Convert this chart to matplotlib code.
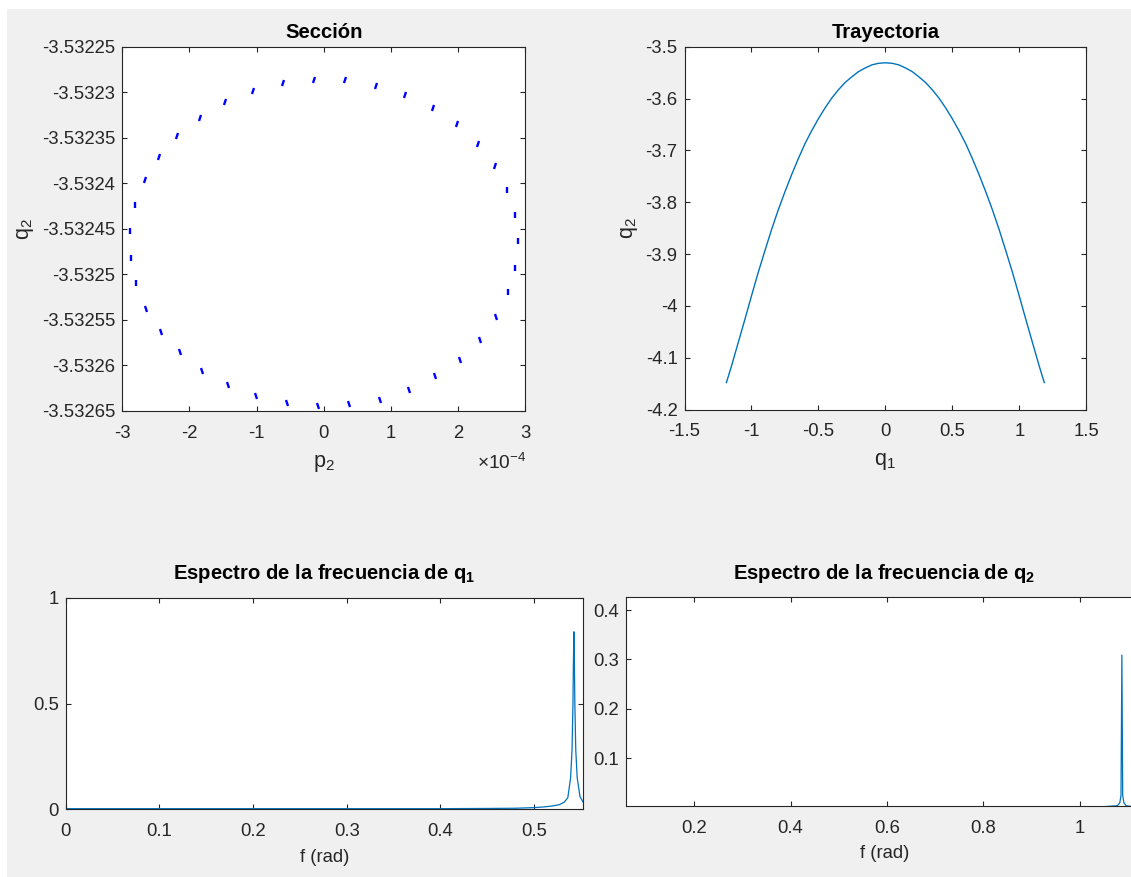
import numpy as np
import matplotlib
matplotlib.use('Agg')
import matplotlib.pyplot as plt
from matplotlib.markers import MarkerStyle
from matplotlib.transforms import Affine2D
from matplotlib.patches import Rectangle
from matplotlib.ticker import FuncFormatter

# Sección (Poincaré): p2 in units of 1e-4, q2 absolute
p2_sec = [-0.141, 0.321, 0.773, 1.214, 1.623, 1.985, 2.293, 2.543, 2.729, 2.840,
          2.888, 2.846, 2.745, 2.564, 2.325, 2.022, 1.661, 1.262, 0.832, 0.380,
          -0.088, -0.550, -1.002, -1.427, -1.804, -2.139, -2.421, -2.649, -2.798, -2.872,
          -2.878, -2.809, -2.665, -2.453, -2.182, -1.847, -1.475, -1.050, -0.603]
q2_sec = [-3.532287, -3.532287, -3.532293, -3.532303, -3.532317, -3.532335, -3.532357, -3.532381, -3.532408, -3.532435,
          -3.532463, -3.532493, -3.532520, -3.532547, -3.532572, -3.532594, -3.532612, -3.532627, -3.532638, -3.532643,
          -3.532645, -3.532641, -3.532634, -3.532622, -3.532606, -3.532586, -3.532563, -3.532538, -3.532510, -3.532482,
          -3.532453, -3.532424, -3.532397, -3.532371, -3.532348, -3.532328, -3.532311, -3.532299, -3.532290]

# Trayectoria
q1_tr = [-1.187, -1.15, -1.1, -1.05, -1.0, -0.95, -0.9, -0.85, -0.8, -0.75, -0.7, -0.65, -0.6,
         -0.55, -0.5, -0.45, -0.4, -0.35, -0.3, -0.25, -0.2, -0.15, -0.1, -0.05, 0.0,
         0.05, 0.1, 0.15, 0.2, 0.25, 0.3, 0.35, 0.4, 0.45, 0.5, 0.55, 0.6,
         0.65, 0.7, 0.75, 0.8, 0.85, 0.9, 0.95, 1.0, 1.05, 1.1, 1.15, 1.187]
q2_tr = [-4.148, -4.117, -4.072, -4.027, -3.981, -3.936, -3.894, -3.853, -3.815, -3.780, -3.747, -3.716, -3.687,
         -3.662, -3.639, -3.618, -3.599, -3.583, -3.569, -3.558, -3.548, -3.541, -3.535, -3.532, -3.531,
         -3.532, -3.535, -3.541, -3.548, -3.558, -3.569, -3.583, -3.599, -3.618, -3.639, -3.662, -3.687,
         -3.716, -3.747, -3.780, -3.815, -3.853, -3.894, -3.936, -3.981, -4.027, -4.072, -4.117, -4.148]

# Espectro q1
f1 = [0.0, 0.1, 0.2, 0.3, 0.4, 0.45, 0.48, 0.50, 0.51, 0.52, 0.527, 0.532, 0.536, 0.539,
      0.5405, 0.5415, 0.542, 0.5425, 0.543, 0.5435, 0.5445, 0.546, 0.549, 0.552]
a1 = [0.003, 0.003, 0.003, 0.003, 0.003, 0.004, 0.005, 0.008, 0.011, 0.016, 0.022, 0.033, 0.055, 0.15,
      0.28, 0.5, 0.7, 0.839, 0.7, 0.5, 0.28, 0.15, 0.06, 0.036]

# Espectro q2
f2 = [0.058, 0.3, 0.6, 0.9, 1.05, 1.078, 1.083, 1.0855, 1.0873, 1.089, 1.0915, 1.096, 1.11, 1.13]
a2 = [0.002, 0.002, 0.002, 0.002, 0.002, 0.004, 0.010, 0.025, 0.309, 0.025, 0.010, 0.004, 0.002, 0.002]

W, H = 1131, 877
plt.rcParams['font.family'] = ['Liberation Sans', 'DejaVu Sans']
plt.rcParams['mathtext.fontset'] = 'custom'
plt.rcParams['mathtext.rm'] = 'Liberation Sans'
plt.rcParams['mathtext.it'] = 'Liberation Sans'
plt.rcParams['mathtext.bf'] = 'Liberation Sans:bold'
plt.rcParams['axes.unicode_minus'] = False

fig = plt.figure(figsize=(W / 100, H / 100), dpi=100, facecolor='white')
fig.patches.append(Rectangle((7 / W, 0), 1, 1 - 9 / H, transform=fig.transFigure,
                             facecolor='#f0f0f0', edgecolor='none', zorder=-10))

tick_fs = 13.3
lab_fs = 14.6
gray = '#262626'
line_c = '#0072bd'
fmt = FuncFormatter(lambda v, pos: f'{v:g}')


def px_axes(l, t, r, b):
    return fig.add_axes([l / W, 1 - b / H, (r - l) / W, (b - t) / H])


def style(ax):
    ax.tick_params(direction='in', top=True, right=True, length=3.5, width=0.8,
                   labelsize=tick_fs, colors=gray, pad=5)
    ax.tick_params(axis='x', pad=10)
    for s in ax.spines.values():
        s.set_color(gray)
        s.set_linewidth(0.8)
    ax.xaxis.set_major_formatter(fmt)
    ax.yaxis.set_major_formatter(fmt)


# Sección
ax1 = px_axes(122.1, 46.7, 525.4, 410.7)
qc = (max(q2_sec) + min(q2_sec)) / 2
qr = (max(q2_sec) - min(q2_sec)) / 2
for p, q in zip(p2_sec, q2_sec):
    ang = -25 * (q - qc) / qr
    m = MarkerStyle('|', transform=Affine2D().rotate_deg(ang))
    ax1.plot(p, q, linestyle='none', marker=m, markersize=5, markeredgewidth=1.7, color='#0000ff')
ax1.set_xlim(-3, 3)
ax1.set_ylim(-3.53265, -3.53225)
ax1.set_xticks(np.arange(-3, 4, 1))
ax1.set_yticks(np.linspace(-3.53265, -3.53225, 9))
style(ax1)
ax1.set_title('Sección', fontsize=lab_fs, fontweight='bold', pad=6.5)
ax1.set_xlabel(r'$\mathrm{p}_2$', fontsize=lab_fs + 1, color=gray, labelpad=8)
ax1.set_ylabel(r'$\mathrm{q}_2$', fontsize=lab_fs + 1, color=gray, labelpad=4)
fig.text(526 / W, 1 - 463 / H, r'$\times$10$^{-4}$', ha='right', va='center',
         fontsize=tick_fs + 0.5, color=gray)

# Trayectoria
ax2 = px_axes(684.5, 46.7, 1086.2, 409.5)
ax2.plot(q1_tr, q2_tr, color=line_c, linewidth=1.0)
ax2.set_xlim(-1.5, 1.5)
ax2.set_ylim(-4.2, -3.5)
ax2.set_xticks(np.arange(-1.5, 1.6, 0.5))
ax2.set_yticks(np.arange(-4.2, -3.45, 0.1))
style(ax2)
ax2.set_title('Trayectoria', fontsize=lab_fs, fontweight='bold', pad=6.5)
ax2.set_xlabel(r'$\mathrm{q}_1$', fontsize=lab_fs + 1, color=gray, labelpad=8)
ax2.set_ylabel(r'$\mathrm{q}_2$', fontsize=lab_fs + 1, color=gray, labelpad=4)

# Espectro q1
ax3 = px_axes(65.8, 597.7, 582.8, 809.3)
ax3.plot(f1, a1, color=line_c, linewidth=0.9)
ax3.set_xlim(0, 0.552)
ax3.set_ylim(0, 1)
ax3.set_xticks(np.arange(0, 0.55, 0.1))
ax3.set_yticks([0, 0.5, 1])
style(ax3)
ax3.set_title(r'Espectro de la frecuencia de $\mathbf{q}_\mathbf{1}$', fontsize=lab_fs,
              fontweight='bold', pad=13.5)
ax3.set_xlabel('f (rad)', fontsize=tick_fs, color=gray, labelpad=6)

# Espectro q2
ax4 = px_axes(625.7, 596.7, 1142.7, 805.7)
ax4.plot(f2, a2, color=line_c, linewidth=0.9)
ax4.set_xlim(0.0579, 1.1305)
ax4.set_ylim(0.004, 0.427)
ax4.set_xticks(np.arange(0.2, 1.05, 0.2))
ax4.set_yticks([0.1, 0.2, 0.3, 0.4])
style(ax4)
ax4.set_title(r'Espectro de la frecuencia de $\mathbf{q}_\mathbf{2}$', fontsize=lab_fs,
              fontweight='bold', pad=13)
ax4.set_xlabel('f (rad)', fontsize=tick_fs, color=gray, labelpad=6)

fig.savefig('out.png', dpi=100, facecolor=fig.get_facecolor())
